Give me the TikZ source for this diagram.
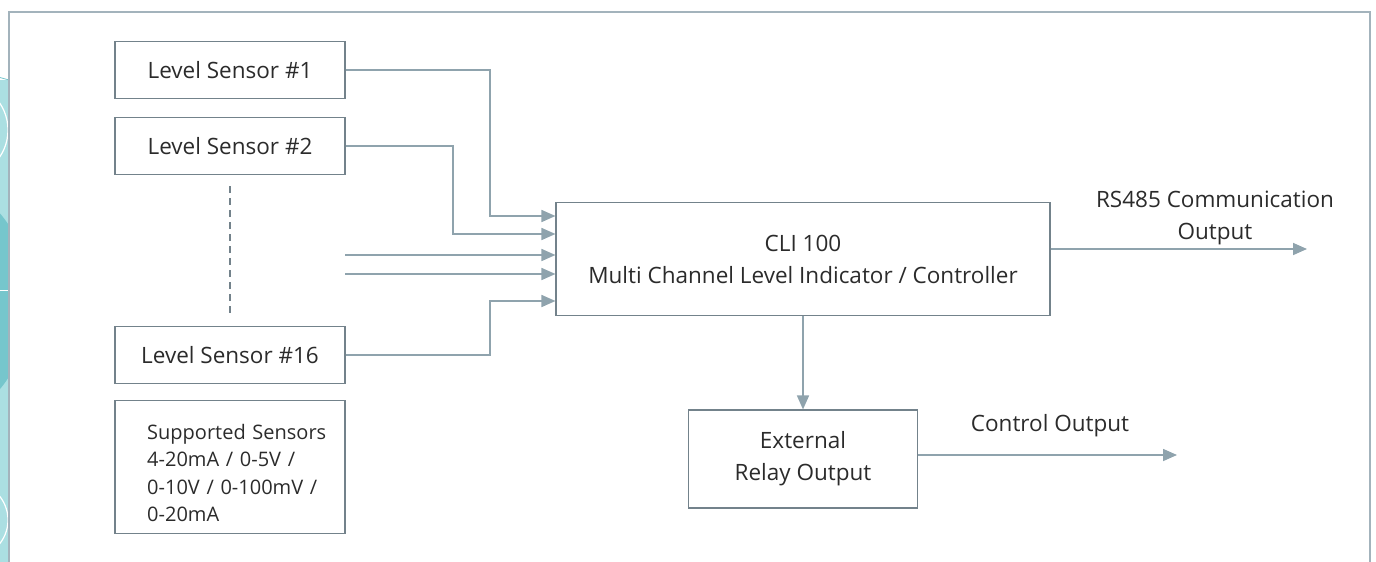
\documentclass[tikz,border=0pt]{standalone}
\usepackage{fontspec}
\setmainfont{Open Sans}
\usetikzlibrary{arrows.meta}
\definecolor{framegray}{HTML}{A3B3BC}
\definecolor{boxgray}{HTML}{73828B}
\definecolor{linegray}{HTML}{8FA3AD}
\definecolor{txtgray}{HTML}{2B2B2B}
\definecolor{tealA}{HTML}{ABDFE2}
\definecolor{tealB}{HTML}{76C6CC}
\begin{document}
\begin{tikzpicture}[x=1pt,y=-1pt,
    every node/.style={text=txtgray,font=\fontsize{22.5}{32}\selectfont},
    sensorbox/.style={draw=boxgray,line width=1.1pt,minimum width=230pt,minimum height=57pt,inner sep=0pt},
    flow/.style={draw=linegray,line width=1.6pt,-{Triangle[length=14pt,width=12pt]}},
    plain/.style={draw=linegray,line width=1.6pt}]
  \useasboundingbox (0,0) rectangle (1376,562);
  % left decoration
  \begin{scope}
    \clip (0,0) rectangle (9,562);
    \fill[tealA] (0,80) rectangle (9,562);
    \fill[tealB] (-60,180) .. controls (60,200) and (60,400) .. (-60,425) -- cycle;
    \draw[white,line width=1.2pt] (-40,130) circle (48);
    \draw[white,line width=1pt] (-80,290) -- (9,290);
    \draw[white,line width=1.2pt] (-30,520) circle (38);
    \draw[tealB,line width=0.8pt] (-20,72) -- (9,80);
  \end{scope}
  % frame
  \draw[framegray,line width=1.5pt] (9,562) -- (9,12) -- (1370,12) -- (1370,562);
  % sensors
  \node[sensorbox] (s1) at (230,70) {Level Sensor \#1};
  \node[sensorbox] (s2) at (230,146) {Level Sensor \#2};
  \node[sensorbox] (s16) at (230,355) {Level Sensor \#16};
  \node[sensorbox,minimum height=133pt] (sup) at (230,467) {};
  \node[text width=185pt,align=left,inner sep=0pt,anchor=west,
        font=\fontsize{20}{27.5}\selectfont] (suptxt) at (147,473)
        {Supported Sensors\\4-20mA / 0-5V /\\0-10V / 0-100mV /\\0-20mA};
  \draw[boxgray,line width=1.1pt,dashed,dash pattern=on 7pt off 5pt] (s2.south) ++(0,11) -- ++(0,128);
  % controller
  \node[sensorbox,minimum width=494pt,minimum height=113pt,align=center] (cli) at (803,259)
        {CLI 100\\Multi Channel Level Indicator / Controller};
  \node[sensorbox,minimum width=229pt,minimum height=98pt,align=center] (relay) at (803,459)
        {External\\Relay Output};
  % inputs
  \coordinate (in3) at (345,255);
  \coordinate (in4) at (345,274);
  \draw[flow] (s1.east) -| (490,216) -- (cli.west |- 0,216);
  \draw[flow] (s2.east) -| (453,234) -- (cli.west |- 0,234);
  \draw[flow] (in3) -- (cli.west |- in3);
  \draw[flow] (in4) -- (cli.west |- in4);
  \draw[flow] (s16.east) -| (490,301) -- (cli.west |- 0,301);
  % outputs
  \coordinate (rsout) at (1307,249);
  \coordinate (ctlout) at (1177,455);
  \draw[flow] (cli.east |- rsout) -- (rsout);
  \node[align=center] (rslbl) at (1215,218) {RS485 Communication\\Output};
  \draw[flow] (cli.south) -- (relay.north);
  \draw[flow] (relay.east |- ctlout) -- (ctlout);
  \node (ctllbl) at (1050,426) {Control Output};
\end{tikzpicture}
\end{document}
